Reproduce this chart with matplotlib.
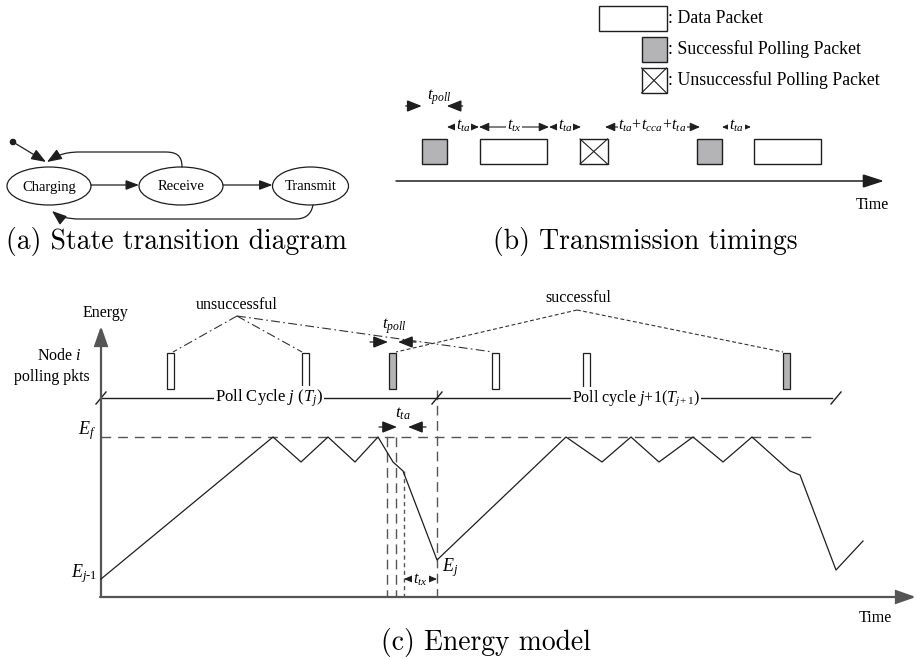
import matplotlib
matplotlib.use("Agg")
import matplotlib.pyplot as plt
from matplotlib.patches import Ellipse, Rectangle, FancyArrowPatch, ArrowStyle, Circle
from matplotlib.path import Path

plt.rcParams['font.family'] = ['Liberation Serif', 'DejaVu Serif']
plt.rcParams['mathtext.fontset'] = 'custom'
plt.rcParams['mathtext.rm'] = 'Liberation Serif'
plt.rcParams['mathtext.it'] = 'Liberation Serif:italic'
plt.rcParams['mathtext.bf'] = 'Liberation Serif:bold'

# ---------------- data (pixel units) ----------------
# (a) state transition diagram
state_names = ['Charging', 'Receive', 'Transmit']
state_cx = [49, 181, 310.5]
state_w = [84, 84, 76]
state_cy = 186
state_h = 38

# (b) transmission timings
legend_labels = [': Data Packet', ': Successful Polling Packet', ': Unsuccessful Polling Packet']
legend_kinds = ['data', 'succ', 'fail']
legend_x0 = [599, 641.5, 641.5]
legend_x1 = [666.5, 666.5, 666.5]
legend_y0 = [6, 37, 68]
legend_h = 25

timing_kinds = ['succ', 'data', 'fail', 'succ', 'data']
timing_x0 = [421.7, 480, 580, 697, 754]
timing_x1 = [446.7, 547, 607.5, 722, 821]
timing_y0, timing_y1 = 139, 164

interval_labels = [r'$t_{ta}$', r'$t_{tx}$', r'$t_{ta}$',
                   r'$t_{ta}\!+\!t_{cca}\!+\!t_{ta}$', r'$t_{ta}$']
interval_x0 = [447, 479, 549, 605, 722]
interval_x1 = [479, 549, 581, 700, 751]
interval_y = 127

# (c) energy model
energy_x = [101, 273, 301, 328, 355, 378, 393, 403, 437, 566, 602, 631, 659,
            693, 723, 752, 790, 800, 836, 863]
energy_y = [579, 437, 462, 437, 462, 437, 462, 471, 560, 437, 462, 437, 462,
            437, 462, 437, 471, 475, 570, 541]
poll_x0 = [167, 302, 389, 492, 583, 783]
poll_kinds = ['fail', 'fail', 'succ', 'fail', 'fail', 'succ']
poll_w = 7
poll_y0, poll_y1 = 353, 389
unsucc_apex = (237, 316)
unsucc_ends = [(173, 352), (302, 352), (493, 352)]
succ_apex = (577, 310)
succ_ends = [(396, 352), (783, 352)]
Ef_y = 437
vlines_x = [387, 396, 404, 437]
vlines_top = [437, 437, 471, 390]

INK = '#1e1e1e'
GRAY_FILL = '#b4b4b6'
AX_GRAY = '#555555'

fig = plt.figure(figsize=(9.16, 6.59), dpi=100)
ax = fig.add_axes([0, 0, 1, 1])
ax.set_xlim(0, 916)
ax.set_ylim(659, 0)
ax.axis('off')


def arr(p0, p1, hl=7, hw=2.8, lw=0.9, color=INK, style='-|>', ls='-', z=3):
    st = ArrowStyle(style, head_length=hl, head_width=hw)
    a = FancyArrowPatch(p0, p1, arrowstyle=st, mutation_scale=1, lw=lw,
                        color=color, shrinkA=0, shrinkB=0, linestyle=ls, zorder=z,
                        joinstyle='miter')
    ax.add_patch(a)


def box(x0, x1, y0, y1, kind, lw=1.0):
    fc = GRAY_FILL if kind == 'succ' else 'white'
    ax.add_patch(Rectangle((x0, y0), x1 - x0, y1 - y0, fc=fc, ec=INK, lw=lw, zorder=3))
    if kind == 'fail':
        ax.plot([x0, x1], [y0, y1], color=INK, lw=0.8, zorder=4)
        ax.plot([x0, x1], [y1, y0], color=INK, lw=0.8, zorder=4)


def dim_out(x0, x1, y, label, fs=11.5, ty=None):
    st = ArrowStyle('<|-|>', head_length=6, head_width=2.6)
    a = FancyArrowPatch((x0, y), (x1, y), arrowstyle=st, mutation_scale=1, lw=0.8,
                        color=INK, shrinkA=0, shrinkB=0, zorder=3)
    ax.add_patch(a)
    ax.text((x0 + x1) / 2, y if ty is None else ty, label, fontsize=fs, ha='center',
            va='center', zorder=5,
            bbox=dict(boxstyle='square,pad=0.05', fc='white', ec='none'))


def dim_in(x0, x1, y, L=17):
    arr((x0 - L, y), (x0, y), hl=9, hw=3.6, lw=0.9)
    arr((x1 + L, y), (x1, y), hl=9, hw=3.6, lw=0.9)


# ---------------- (a) ----------------
for name, cx, w in zip(state_names, state_cx, state_w):
    ax.add_patch(Ellipse((cx, state_cy), w, state_h, fc='white', ec=INK, lw=0.9, zorder=3))
    ax.text(cx, state_cy + 1, name, fontsize=10.5, ha='center', va='center', zorder=4)
for i in range(len(state_names) - 1):
    arr((state_cx[i] + state_w[i] / 2, 185), (state_cx[i + 1] - state_w[i + 1] / 2, 185),
        hl=8, hw=3)
ax.add_patch(Circle((13, 142), 2.6, color=INK, zorder=4))
arr((13, 142), (46, 162), hl=9, hw=3.4)
top_path = Path([(182, 167), (182, 155), (176, 152), (165, 152), (80, 152),
                 (62, 152), (55, 157), (47, 162)],
                [Path.MOVETO, Path.CURVE4, Path.CURVE4, Path.CURVE4, Path.LINETO,
                 Path.CURVE4, Path.CURVE4, Path.CURVE4])
ax.add_patch(FancyArrowPatch(path=top_path, arrowstyle=ArrowStyle('-|>', head_length=9, head_width=3.4),
                             mutation_scale=1, lw=0.9, color=INK, zorder=3))
bot_path = Path([(313, 205), (311, 215), (305, 219), (295, 219), (80, 219),
                 (66, 219), (58, 216), (52, 211)],
                [Path.MOVETO, Path.CURVE4, Path.CURVE4, Path.CURVE4, Path.LINETO,
                 Path.CURVE4, Path.CURVE4, Path.CURVE4])
ax.add_patch(FancyArrowPatch(path=bot_path, arrowstyle=ArrowStyle('-|>', head_length=9, head_width=3.4),
                             mutation_scale=1, lw=0.9, color=INK, zorder=3))
ax.text(177, 241, '(a) State transition diagram', fontfamily='cmr10', fontsize=19.9,
        ha='center', va='center')

# ---------------- (b) ----------------
for lab, kind, x0, x1, y0 in zip(legend_labels, legend_kinds, legend_x0, legend_x1, legend_y0):
    box(x0, x1, y0, y0 + legend_h, kind)
    ax.text(x1 + 2, y0 + legend_h / 2, lab, fontsize=12.8, ha='left', va='center')
for kind, x0, x1 in zip(timing_kinds, timing_x0, timing_x1):
    box(x0, x1, timing_y0, timing_y1, kind)
for lab, x0, x1 in zip(interval_labels, interval_x0, interval_x1):
    dim_out(x0, x1, interval_y, lab, fs=11.5, ty=interval_y - 1)
dim_in(timing_x0[0], timing_x1[0], 106, L=16)
ax.text((timing_x0[0] + timing_x1[0]) / 2 + 5, 97, r'$t_{poll}$', fontsize=12,
        ha='center', va='center')
arr((396, 181), (884, 181), hl=13, hw=4.2, lw=1.1)
ax.text(872, 205, 'Time', fontsize=11.5, ha='center', va='center')
ax.text(645, 241, '(b) Transmission timings', fontfamily='cmr10', fontsize=19.9,
        ha='center', va='center')

# ---------------- (c) ----------------
arr((101, 597), (101, 326), hl=12, hw=4.2, lw=1.6, color=AX_GRAY)
arr((100, 597), (916, 597), hl=12, hw=4.2, lw=1.6, color=AX_GRAY)
ax.text(105, 313, 'Energy', fontsize=11.5, ha='center', va='center')
ax.text(59, 356, r'Node $i$', fontsize=11.5, ha='center', va='center')
ax.text(52, 377, 'polling pkts', fontsize=11.5, ha='center', va='center')
ax.text(875, 618, 'Time', fontsize=11.5, ha='center', va='center')

# polling packets and links
for x0, kind in zip(poll_x0, poll_kinds):
    ax.add_patch(Rectangle((x0, poll_y0), poll_w, poll_y1 - poll_y0,
                           fc=GRAY_FILL if kind == 'succ' else 'white', ec=INK, lw=0.9, zorder=3))
for e in unsucc_ends:
    ax.plot([unsucc_apex[0], e[0]], [unsucc_apex[1], e[1]], color='#333333', lw=0.8,
            linestyle=(0, (8, 3, 1.5, 3)), zorder=2)
for e in succ_ends:
    ax.plot([succ_apex[0], e[0]], [succ_apex[1], e[1]], color='#333333', lw=0.8,
            linestyle=(0, (3.5, 2.2)), zorder=2)
ax.text(unsucc_apex[0], 305, 'unsuccessful', fontsize=11.5, ha='center', va='center')
ax.text(succ_apex[0] + 1, 298, 'successful', fontsize=11.5, ha='center', va='center')

# t_poll marker
dim_in(poll_x0[2] - 1, poll_x0[2] + poll_w + 2, 342, L=18)
ax.text(394, 326, r'$t_{poll}$', fontsize=12, ha='center', va='center')

# poll cycle line
ax.plot([101, 832], [398, 398], color=INK, lw=1.0, zorder=2)
for sx in [101, 437, 836]:
    ax.plot([sx - 5, sx + 5], [404, 392], color=INK, lw=1.0, zorder=2)
ax.text(269, 398, r'Poll Cycle $j$ ($T_j$)', fontsize=12, ha='center', va='center', zorder=5,
        bbox=dict(boxstyle='square,pad=0.05', fc='white', ec='none'))
ax.text(636, 398, r'Poll cycle $j$+1($T_{j+1}$)', fontsize=11.5, ha='center', va='center', zorder=5,
        bbox=dict(boxstyle='square,pad=0.05', fc='white', ec='none'))

# E_f level
ax.plot([101, 812], [Ef_y, Ef_y], color=AX_GRAY, lw=1.0, linestyle=(0, (7, 5)), zorder=1)
ax.text(96, 431, r'$E_f$', fontsize=13, ha='right', va='center')

# vertical dashed lines
for vx, vt in zip(vlines_x, vlines_top):
    ls = (0, (3, 2.5)) if vx == 404 else (0, (7, 4))
    ax.plot([vx, vx], [vt, 597], color=AX_GRAY, lw=1.0, linestyle=ls, zorder=1)

# t_ta marker
arr((379, 427), (397, 427), hl=9, hw=3.6)
arr((426, 427), (408, 427), hl=9, hw=3.6)
ax.text(403, 414, r'$t_{ta}$', fontsize=12.5, ha='center', va='center')

# t_tx marker
dim_out(404, 437, 579, r'$t_{tx}$', fs=11.5, ty=580)

# energy curve
ax.plot(energy_x, energy_y, color=INK, lw=0.9, zorder=3)
ax.text(442, 568, r'$E_j$', fontsize=13, ha='left', va='center')
ax.text(97, 574, r'$E_{j\text{-}1}$', fontsize=13, ha='right', va='center')

ax.text(486, 642, '(c) Energy model', fontfamily='cmr10', fontsize=19.9,
        ha='center', va='center')

fig.savefig('out.png', dpi=100)
